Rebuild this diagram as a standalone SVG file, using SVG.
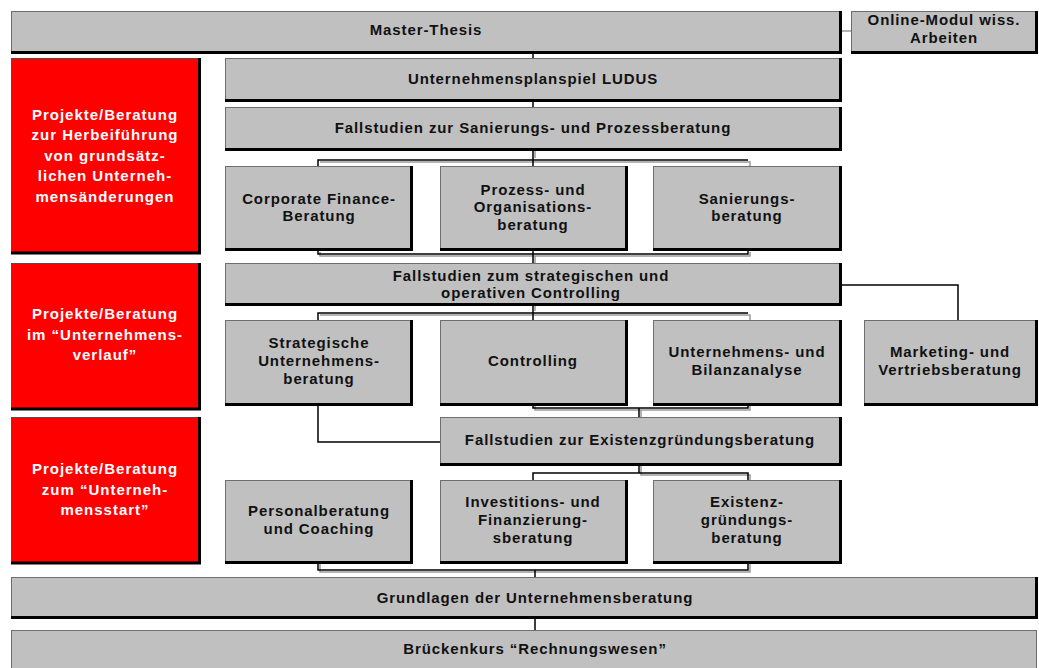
<svg xmlns="http://www.w3.org/2000/svg" width="1039" height="668" viewBox="0 0 1039 668">
<style>
.box{fill:#c0c0c0;stroke:#6e6e6e;stroke-width:1}
.red{fill:#ff0000;stroke:#505050;stroke-width:1}
.sh{fill:none;stroke:#000;stroke-width:3}
.t{font-family:"Liberation Sans",Arial,sans-serif;font-weight:bold;font-size:15px;letter-spacing:0.9px;fill:#111;text-anchor:middle}
.w{font-family:"Liberation Sans",Arial,sans-serif;font-weight:bold;font-size:15px;letter-spacing:1px;fill:#fff;text-anchor:middle}
.c{fill:none;stroke:#000;stroke-width:1.5}
.cs{fill:none;stroke:#9a9a9a;stroke-width:1.5}
</style>
<rect width="1039" height="668" fill="#fff"/>
<g id="connectors">
<path class="cs" d="M841 31H851"/>
<path class="c" d="M533 53V58M533 100V107"/>
<path class="cs" d="M535 151V158M320 162H750V166"/>
<path class="c" d="M533 150V160M318 166V160H748M533 160V166"/>
<path class="cs" d="M320 252V256H750V252M535 256V263"/>
<path class="c" d="M318 250V254H748V250M533 250V263"/>
<path class="c" d="M841 285H958V320"/>
<path class="cs" d="M535 306V311M320 315H750V320"/>
<path class="c" d="M533 305V313M318 320V313H748M533 313V320"/>
<path class="cs" d="M535 406V410H750V406M641 410V417"/>
<path class="c" d="M533 405V408H748V405M639 408V417"/>
<path class="c" d="M318 405V442H440"/>
<path class="cs" d="M641 466V475H750V480"/>
<path class="c" d="M639 465V473M533 480V473H748V480"/>
<path class="cs" d="M320 564V572H750V564"/>
<path class="c" d="M318 563V570H748V563M535 570V577M535 618V630"/>
</g>
<g id="n-master"><rect class="box" x="11.5" y="11.5" width="829" height="41"/><path class="sh" d="M11 52.5H840.5V11"/><text class="t" x="426" y="35">Master-Thesis</text></g>
<g id="n-online"><rect class="box" x="851.5" y="11.5" width="185" height="41"/><path class="sh" d="M851 52.5H1036.5V11"/><text class="t" x="944" y="25">Online-Modul wiss.</text><text class="t" x="944" y="43">Arbeiten</text></g>
<g id="n-red1"><rect class="red" x="11.5" y="58.5" width="188" height="195"/><path class="sh" d="M11 253H199.5V58"/><text class="w" x="105" y="120">Projekte/Beratung</text><text class="w" x="105" y="140">zur Herbeiführung</text><text class="w" x="105" y="161">von grundsätz-</text><text class="w" x="105" y="181">lichen Unterneh-</text><text class="w" x="105" y="202">mensänderungen</text></g>
<g id="n-red2"><rect class="red" x="11.5" y="263.5" width="188" height="146"/><path class="sh" d="M11 409H199.5V263"/><text class="w" x="105" y="319">Projekte/Beratung</text><text class="w" x="105" y="340">im  “Unternehmens-</text><text class="w" x="105" y="360">verlauf”</text></g>
<g id="n-red3"><rect class="red" x="11.5" y="417.5" width="188" height="146"/><path class="sh" d="M11 563H199.5V417"/><text class="w" x="105" y="474">Projekte/Beratung</text><text class="w" x="105" y="495">zum  “Unterneh-</text><text class="w" x="105" y="515">mensstart”</text></g>
<g id="n-ludus"><rect class="box" x="225.5" y="58.5" width="615" height="42"/><path class="sh" d="M225 100.5H840.5V58"/><text class="t" x="533" y="84">Unternehmensplanspiel LUDUS</text></g>
<g id="n-fs-san"><rect class="box" x="225.5" y="107.5" width="615" height="42"/><path class="sh" d="M225 149.5H840.5V107"/><text class="t" x="533" y="133">Fallstudien zur Sanierungs- und Prozessberatung</text></g>
<g id="n-cf"><rect class="box" x="225.5" y="166.5" width="186" height="83"/><path class="sh" d="M225 249.5H411.5V166"/><text class="t" x="319" y="204">Corporate Finance-</text><text class="t" x="319" y="221">Beratung</text></g>
<g id="n-proz"><rect class="box" x="440.5" y="166.5" width="186" height="83"/><path class="sh" d="M440 249.5H626.5V166"/><text class="t" x="533" y="195">Prozess- und</text><text class="t" x="533" y="212">Organisations-</text><text class="t" x="533" y="230">beratung</text></g>
<g id="n-san"><rect class="box" x="653.5" y="166.5" width="187" height="83"/><path class="sh" d="M653 249.5H840.5V166"/><text class="t" x="747" y="204">Sanierungs-</text><text class="t" x="747" y="221">beratung</text></g>
<g id="n-fs-contr"><rect class="box" x="225.5" y="263.5" width="615" height="41"/><path class="sh" d="M225 304.5H840.5V263"/><text class="t" x="531" y="281">Fallstudien zum strategischen und</text><text class="t" x="531" y="298">operativen Controlling</text></g>
<g id="n-strat"><rect class="box" x="225.5" y="320.5" width="186" height="84"/><path class="sh" d="M225 404.5H411.5V320"/><text class="t" x="319" y="348">Strategische</text><text class="t" x="319" y="366">Unternehmens-</text><text class="t" x="319" y="384">beratung</text></g>
<g id="n-contr"><rect class="box" x="440.5" y="320.5" width="186" height="84"/><path class="sh" d="M440 404.5H626.5V320"/><text class="t" x="533" y="366">Controlling</text></g>
<g id="n-bilanz"><rect class="box" x="653.5" y="320.5" width="187" height="84"/><path class="sh" d="M653 404.5H840.5V320"/><text class="t" x="747" y="357">Unternehmens- und</text><text class="t" x="747" y="375">Bilanzanalyse</text></g>
<g id="n-marketing"><rect class="box" x="864.5" y="320.5" width="172" height="84"/><path class="sh" d="M864 404.5H1036.5V320"/><text class="t" x="950" y="357">Marketing- und</text><text class="t" x="950" y="375">Vertriebsberatung</text></g>
<g id="n-fs-exist"><rect class="box" x="440.5" y="417.5" width="400" height="47"/><path class="sh" d="M440 464.5H840.5V417"/><text class="t" x="640" y="445">Fallstudien zur Existenzgründungsberatung</text></g>
<g id="n-personal"><rect class="box" x="225.5" y="480.5" width="186" height="82"/><path class="sh" d="M225 562.5H411.5V480"/><text class="t" x="319" y="516">Personalberatung</text><text class="t" x="319" y="534">und Coaching</text></g>
<g id="n-invest"><rect class="box" x="440.5" y="480.5" width="186" height="82"/><path class="sh" d="M440 562.5H626.5V480"/><text class="t" x="533" y="507">Investitions- und</text><text class="t" x="533" y="525">Finanzierung-</text><text class="t" x="533" y="543">sberatung</text></g>
<g id="n-exist"><rect class="box" x="653.5" y="480.5" width="187" height="82"/><path class="sh" d="M653 562.5H840.5V480"/><text class="t" x="747" y="507">Existenz-</text><text class="t" x="747" y="525">gründungs-</text><text class="t" x="747" y="543">beratung</text></g>
<g id="n-grund"><rect class="box" x="11.5" y="577.5" width="1025" height="40"/><path class="sh" d="M11 617.5H1036.5V577"/><text class="t" x="535" y="603">Grundlagen der Unternehmensberatung</text></g>
<g id="n-bruecke"><rect class="box" x="11.5" y="630.5" width="1025" height="40"/><text class="t" x="535" y="654">Brückenkurs “Rechnungswesen”</text></g>
</svg>
